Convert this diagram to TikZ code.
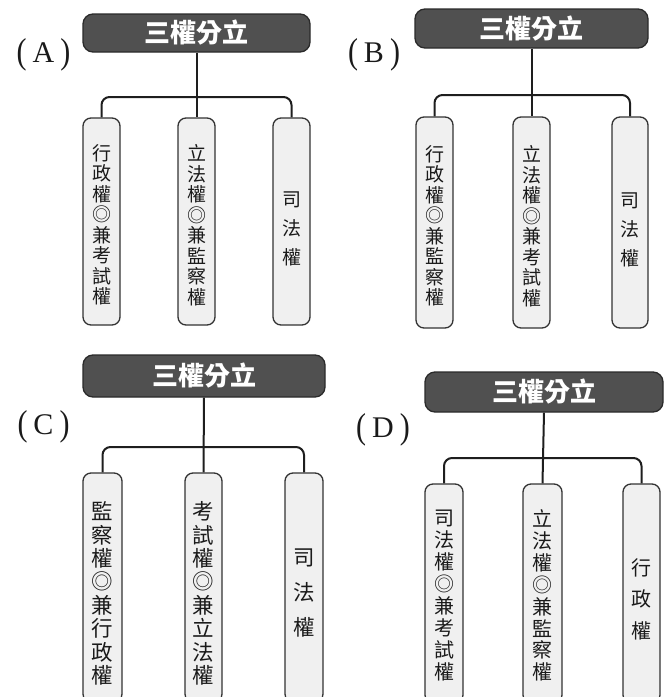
\documentclass[tikz,border=0pt]{standalone}
\usepackage{graphicx}
\usepackage{fontspec}
\newfontfamily\cjk{Noto Sans CJK TC}
\newfontfamily\lserif{Liberation Serif}
\definecolor{tfill}{HTML}{505050}
\definecolor{tborder}{HTML}{2A2A2A}
\definecolor{lfill}{HTML}{F0F0F0}
\definecolor{lborder}{HTML}{333333}
\definecolor{conncol}{HTML}{1E1E1E}
\definecolor{txtcol}{HTML}{1A1A1A}
\newcommand\plab[1]{\raisebox{-1pt}{\scalebox{1}[1.2]{(}}\hspace{6pt}#1\hspace{6pt}\raisebox{-1pt}{\scalebox{1}[1.2]{)}}}
\begin{document}
\begin{tikzpicture}[x=1pt,y=-1pt,
  title/.style={draw=tborder, fill=tfill, line width=1.3pt, rounded corners=10pt, text=white, font=\cjk\bfseries\fontsize{26}{26}\selectfont, inner sep=0pt},
  leaf/.style={draw=lborder, fill=lfill, line width=1.3pt, rounded corners=8pt, inner sep=0pt},
  vtxt/.style={align=center, inner sep=0pt, text=txtcol},
  conn/.style={draw=conncol, line width=2pt, rounded corners=8pt},
  lab/.style={inner sep=0pt, text=txtcol, font=\lserif\fontsize{30}{30}\selectfont}]
\useasboundingbox (0,0) rectangle (666,697);
\clip (0,0) rectangle (666,697);

% ---------------- Panel A ----------------
\node[lab] (la) at (43.5,55) {\plab{A}};
\node[title, minimum width=227pt, minimum height=38pt] (at) at (196.5,33) {三權分立};
\node[leaf, minimum width=37pt, minimum height=207pt] (a1) at (101.5,221.5) {};
\node[leaf, minimum width=37pt, minimum height=207pt] (a2) at (196.5,221.5) {};
\node[leaf, minimum width=37pt, minimum height=207pt] (a3) at (291.5,221.5) {};
\node[vtxt, font=\cjk\fontsize{19}{20.5}\selectfont] (a1t) at (101.5,225) {行\\政\\權\\◎\\兼\\考\\試\\權};
\node[vtxt, font=\cjk\fontsize{19}{20.5}\selectfont] (a2t) at (196.5,225) {立\\法\\權\\◎\\兼\\監\\察\\權};
\node[vtxt, font=\cjk\fontsize{19}{29}\selectfont] (a3t) at (291.5,229) {司\\法\\權};
\coordinate (aj) at (196.5,97);
\draw[conn] (at.south) -- (a2.north);
\draw[conn] (a1.north) |- (aj) -| (a3.north);

% ---------------- Panel B ----------------
\node[lab] (lb) at (374,55) {\plab{B}};
\node[title, minimum width=233pt, minimum height=39pt] (bt) at (531.5,28.5) {三權分立};
\node[leaf, minimum width=37pt, minimum height=211pt] (b1) at (434.5,222.5) {};
\node[leaf, minimum width=37pt, minimum height=211pt] (b2) at (531.5,222.5) {};
\node[leaf, minimum width=36pt, minimum height=211pt] (b3) at (630,222.5) {};
\node[vtxt, font=\cjk\fontsize{19}{20.5}\selectfont] (b1t) at (434.5,226) {行\\政\\權\\◎\\兼\\監\\察\\權};
\node[vtxt, font=\cjk\fontsize{19}{20.5}\selectfont] (b2t) at (531.5,226) {立\\法\\權\\◎\\兼\\考\\試\\權};
\node[vtxt, font=\cjk\fontsize{19}{29}\selectfont] (b3t) at (630,230) {司\\法\\權};
\coordinate (bj) at (531.5,95);
\draw[conn] (bt.south) -- (b2.north);
\draw[conn] (b1.north) |- (bj) -| (b3.north);

% ---------------- Panel C ----------------
\node[lab] (lc) at (43.5,427) {\plab{C}};
\node[title, minimum width=242pt, minimum height=42pt] (ct) at (204,376) {三權分立};
\node[leaf, minimum width=39pt, minimum height=229pt] (c1) at (102.5,587.5) {};
\node[leaf, minimum width=37pt, minimum height=229pt] (c2) at (203.5,587.5) {};
\node[leaf, minimum width=38pt, minimum height=229pt] (c3) at (304,587.5) {};
\node[vtxt, font=\cjk\fontsize{21.5}{23.4}\selectfont] (c1t) at (102.5,593.5) {監\\察\\權\\◎\\兼\\行\\政\\權};
\node[vtxt, font=\cjk\fontsize{21.5}{23.4}\selectfont] (c2t) at (203.5,593.5) {考\\試\\權\\◎\\兼\\立\\法\\權};
\node[vtxt, font=\cjk\fontsize{21.5}{35}\selectfont] (c3t) at (304,593) {司\\法\\權};
\coordinate (cj) at (203.5,447);
\draw[conn] (ct.south) -- (c2.north);
\draw[conn] (c1.north) |- (cj) -| (c3.north);

% ---------------- Panel D ----------------
\node[lab] (ld) at (383,430) {\plab{D}};
\node[title, minimum width=238pt, minimum height=40pt] (dt) at (544,392) {三權分立};
\node[leaf, minimum width=38pt, minimum height=219pt] (d1) at (444,593.5) {};
\node[leaf, minimum width=39pt, minimum height=219pt] (d2) at (542.5,593.5) {};
\node[leaf, minimum width=37pt, minimum height=219pt] (d3) at (641.5,593.5) {};
\node[vtxt, font=\cjk\fontsize{20}{21.9}\selectfont] (d1t) at (444,595.5) {司\\法\\權\\◎\\兼\\考\\試\\權};
\node[vtxt, font=\cjk\fontsize{20}{21.9}\selectfont] (d2t) at (542.5,595.5) {立\\法\\權\\◎\\兼\\監\\察\\權};
\node[vtxt, font=\cjk\fontsize{20}{31.5}\selectfont] (d3t) at (641.5,599) {行\\政\\權};
\coordinate (dj) at (542.5,458);
\draw[conn] (dt.south) -- (d2.north);
\draw[conn] (d1.north) |- (dj) -| (d3.north);
\end{tikzpicture}
\end{document}
